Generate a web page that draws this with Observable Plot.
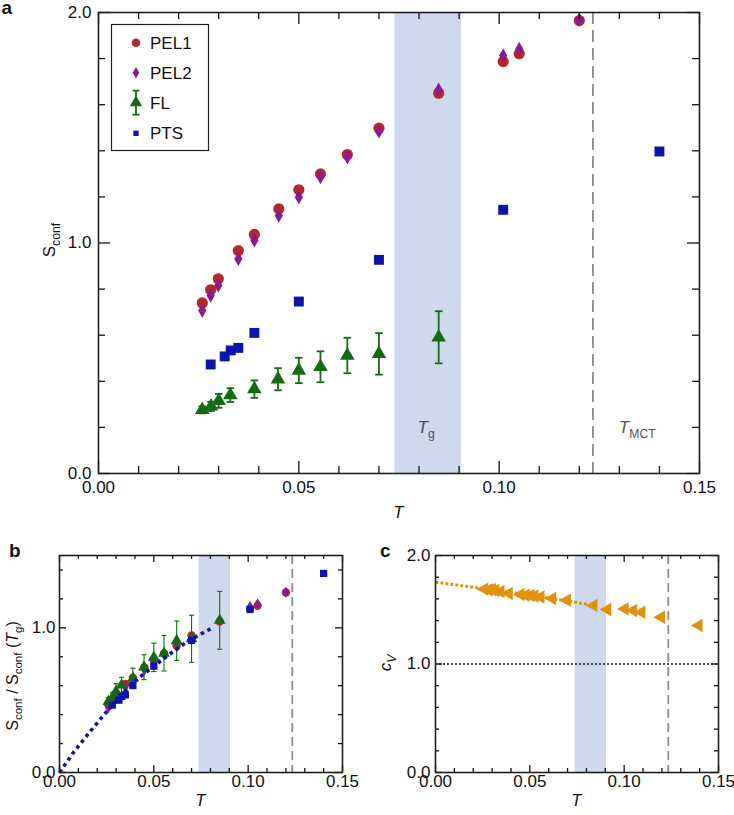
<!DOCTYPE html>
<html><head><meta charset="utf-8">
<script src="https://cdn.jsdelivr.net/npm/d3@7"></script>
<script src="https://cdn.jsdelivr.net/npm/@observablehq/plot@0.6"></script>
<style>
body{margin:0;background:#fff;}
#fig{position:relative;width:734px;height:815px;overflow:hidden;background:#fff;}
</style></head><body><div id="fig"></div>
<script>
// ---------- Panel a data ----------
const pelT  = [0.0259, 0.0280, 0.0299, 0.0349, 0.0389, 0.0450, 0.0500, 0.0554, 0.0621, 0.0700, 0.0849, 0.1010, 0.1050, 0.1200];
const pel1S = [0.740, 0.797, 0.845, 0.967, 1.037, 1.148, 1.231, 1.300, 1.384, 1.498, 1.650, 1.787, 1.821, 1.965];
const pel2S = [0.707, 0.772, 0.816, 0.931, 1.011, 1.119, 1.199, 1.286, 1.372, 1.484, 1.665, 1.813, 1.842, 1.968];
const flT   = [0.0259, 0.0281, 0.0300, 0.0329, 0.0389, 0.0448, 0.0500, 0.0554, 0.0621, 0.0700, 0.0849];
const flS   = [0.276, 0.291, 0.315, 0.340, 0.366, 0.409, 0.447, 0.463, 0.512, 0.519, 0.591];
const flErr = [0.015, 0.020, 0.030, 0.030, 0.038, 0.048, 0.055, 0.067, 0.077, 0.090, 0.113];
const ptsT  = [0.0280, 0.0315, 0.0330, 0.0349, 0.0389, 0.0500, 0.0700, 0.1010, 0.1400];
const ptsS  = [0.473, 0.508, 0.534, 0.545, 0.610, 0.746, 0.927, 1.144, 1.397];
// ---------- Panel b data (normalised) ----------
const bPel1 = [0.468, 0.504, 0.535, 0.612, 0.656, 0.727, 0.779, 0.823, 0.876, 0.948, 1.044, 1.131, 1.153, 1.244];
const bPel2 = [0.447, 0.489, 0.516, 0.589, 0.640, 0.708, 0.759, 0.814, 0.868, 0.939, 1.054, 1.147, 1.166, 1.246];
const bFl   = [0.491, 0.518, 0.561, 0.605, 0.651, 0.728, 0.796, 0.824, 0.911, 0.924, 1.052];
const bFlErr= [0.027, 0.036, 0.053, 0.053, 0.070, 0.086, 0.098, 0.122, 0.136, 0.163, 0.200];
const bPts  = [0.466, 0.500, 0.526, 0.537, 0.601, 0.735, 0.913, 1.127, 1.376];
const fitT  = [0, 0.0075, 0.0154, 0.0243, 0.0393, 0.0500, 0.0570, 0.0685, 0.0810];
const fitV  = [0, 0.140, 0.270, 0.410, 0.625, 0.735, 0.805, 0.912, 1.000];
// ---------- Panel c data ----------
const cvT = [0.0259, 0.0283, 0.0301, 0.0318, 0.0345, 0.0389, 0.0451, 0.0478, 0.0504, 0.0525, 0.0557, 0.0619, 0.0697, 0.0838, 0.0911, 0.1003, 0.1048, 0.1092, 0.1196, 0.1395];
const cvV = [1.690, 1.684, 1.686, 1.677, 1.668, 1.650, 1.640, 1.634, 1.631, 1.626, 1.618, 1.604, 1.588, 1.540, 1.502, 1.508, 1.493, 1.477, 1.431, 1.354];
const cvFitT = [0, 0.0220, 0.0500, 0.0805];
const cvFitV = [1.754, 1.703, 1.634, 1.551];
const cvRef = [1.0];
// ---------- Reference markers ----------
const tgBand = [0.0740, 0.0906];
const tMCT = [0.1234];
// ---------- Axes / ticks ----------
const xDomain = [0, 0.15];
const yDomainA = [0, 2], yDomainB = [0, 1.5], yDomainC = [0, 2];
const xMajor = [0, 0.05, 0.10, 0.15];
const xMinor = [0.01,0.02,0.03,0.04,0.06,0.07,0.08,0.09,0.11,0.12,0.13,0.14];
const yMajorA = [0, 1.0, 2.0];
const yMinorA = [0.2,0.4,0.6,0.8,1.2,1.4,1.6,1.8];
const yMajorB = [0, 1.0];
const yMinorB = [0.2,0.4,0.6,0.8,1.2,1.4];
const yMajorC = [0, 1.0, 2.0];
const yMinorC = [0.2,0.4,0.6,0.8,1.2,1.4,1.6,1.8];
const legendLabels = ["PEL1", "PEL2", "FL", "PTS"];

// ---------- Style ----------
const RED = "#b3272d", PURPLE = "#8a1a8f", GREEN = "#146b14", BLUE = "#0b14ad", ORANGE = "#e0920e";
const BAND = "#cfd9ed", DASH = "#8c8c8c", INK = "#1e1e1e";
const FONT = '"Liberation Sans", Arial, Helvetica, sans-serif';
const FS = 17;

const capSymbol = (hw) => ({draw(ctx){ ctx.moveTo(-hw, 0); ctx.lineTo(hw, 0); }});
const leftTriangle = {draw(ctx, size){
  const y = Math.sqrt(size / (Math.sqrt(3) * 3));
  ctx.moveTo(-2 * y, 0); ctx.lineTo(y, -Math.sqrt(3) * y); ctx.lineTo(y, Math.sqrt(3) * y); ctx.closePath();
}};

// axis labels, frame and inward ticks on all four sides (tick lengths given in pixels, o.pw/o.ph = plot size)
function axes(o) {
  const [y0, y1] = o.yDomain, [x0, x1] = xDomain;
  const ky = (y1 - y0) / o.ph, kx = (x1 - x0) / o.pw;
  const c = {stroke: "#111", strokeWidth: 1.3};
  const xt = (vals, len) => [
    ...vals.map(v => ({x: v, a: y0, b: y0 + len * ky})),
    ...vals.map(v => ({x: v, a: y1, b: y1 - len * ky}))];
  const yt = (vals, len) => [
    ...vals.map(v => ({y: v, a: x0, b: x0 + len * kx})),
    ...vals.map(v => ({y: v, a: x1, b: x1 - len * kx}))];
  return [
    Plot.ruleX(xt(xMinor, o.minor), {...c, x: "x", y1: "a", y2: "b"}),
    Plot.ruleX(xt(xMajor, o.major), {...c, x: "x", y1: "a", y2: "b"}),
    Plot.ruleY(yt(o.yMinor, o.minor), {...c, y: "y", x1: "a", x2: "b"}),
    Plot.ruleY(yt(o.yMajor, o.major), {...c, y: "y", x1: "a", x2: "b"}),
    Plot.axisX(xMajor, {anchor: "bottom", tickSize: 0, tickPadding: o.xPad, tickFormat: d3.format(".2f"), label: null, fill: "#111", fontSize: FS}),
    Plot.axisY(o.yMajor, {anchor: "left", tickSize: 0, tickPadding: o.yPad, tickFormat: d3.format(".1f"), label: null, fill: "#111", fontSize: FS}),
    Plot.frame({stroke: INK, strokeWidth: 1.6})
  ];
}

function rich(svg, {x, y, rotate = 0, anchor = "middle", size = FS, fill = "#111", weight = "normal"}, segs) {
  const t = d3.select(svg).append("text")
    .attr("transform", `translate(${x},${y}) rotate(${rotate})`)
    .attr("text-anchor", anchor).attr("font-size", size).attr("fill", fill)
    .attr("font-family", FONT).attr("font-weight", weight);
  let sub = false;
  for (const [s, st = ""] of segs) {
    const ts = t.append("tspan").text(s);
    if (st.includes("i")) ts.attr("font-style", "italic");
    if (st.includes("s")) { ts.attr("font-size", size * 0.72); if (!sub) { ts.attr("dy", size * 0.28); sub = true; } }
    else if (sub) { ts.attr("dy", -size * 0.28); sub = false; }
  }
  return t;
}

const fig = document.getElementById("fig");
function place(node, left, top) { node.style.position = "absolute"; node.style.left = left + "px"; node.style.top = top + "px"; fig.appendChild(node); }
const style = {fontFamily: FONT, fontSize: FS + "px", color: INK, background: "transparent", overflow: "visible"};

// ---------- Panel a ----------
const pel1 = pelT.map((T, i) => ({T, S: pel1S[i]}));
const pel2 = pelT.map((T, i) => ({T, S: pel2S[i]}));
const fl = flT.map((T, i) => ({T, S: flS[i], lo: flS[i] - flErr[i], hi: flS[i] + flErr[i]}));
const pts = ptsT.map((T, i) => ({T, S: ptsS[i]}));

const plotA = Plot.plot({
  width: 734, height: 525, marginLeft: 98, marginRight: 35, marginTop: 12, marginBottom: 52,
  x: {domain: xDomain}, y: {domain: yDomainA}, style,
  marks: [
    Plot.rect([tgBand], {x1: d => d[0], x2: d => d[1], fill: BAND}),
    Plot.ruleX(tMCT, {stroke: DASH, strokeWidth: 1.8, strokeDasharray: "12,6"}),
    Plot.dot(pel1, {x: "T", y: "S", symbol: "circle", r: 5.6, fill: RED, stroke: "none"}),
    Plot.dot(pel2, {x: "T", y: "S", symbol: "diamond", r: 4.3, fill: PURPLE, stroke: "none"}),
    Plot.ruleX(fl, {x: "T", y1: "lo", y2: "hi", stroke: GREEN, strokeWidth: 1.8}),
    Plot.dot(fl, {x: "T", y: "hi", symbol: capSymbol(3.8), stroke: GREEN, strokeWidth: 1.8, fill: "none"}),
    Plot.dot(fl, {x: "T", y: "lo", symbol: capSymbol(3.8), stroke: GREEN, strokeWidth: 1.8, fill: "none"}),
    Plot.dot(fl, {x: "T", y: "S", symbol: "triangle", r: 5.4, fill: GREEN, stroke: "none"}),
    Plot.dot(pts, {x: "T", y: "S", symbol: "square", r: 5.6, fill: BLUE, stroke: "none"}),
    ...axes({pw: 601, ph: 461, major: 12, minor: 7, yDomain: yDomainA, yMajor: yMajorA, yMinor: yMinorA, xPad: 7, yPad: 7})
  ]
});
place(plotA, 0, 0);
{
  const sx = plotA.scale("x"), sy = plotA.scale("y");
  rich(plotA, {x: sx.apply(0.0819), y: sy.apply(0.172), fill: "#3d4a66"}, [["T", "i"], ["g", "s"]]);
  rich(plotA, {x: sx.apply(0.1346), y: sy.apply(0.172), fill: "#555"}, [["T", "i"], ["MCT", "s"]]);
  rich(plotA, {x: 398.5, y: 518}, [["T", "i"]]);
  rich(plotA, {x: 55, y: 240, rotate: -90}, [["S"], ["conf", "s"]]);
  rich(plotA, {x: 1.5, y: 14, anchor: "start", size: 19, weight: "bold"}, [["a"]]);
  // legend
  const g = d3.select(plotA).append("g");
  g.append("rect").attr("x", 111.5).attr("y", 24.5).attr("width", 97).attr("height", 126)
    .attr("fill", "white").attr("stroke", INK).attr("stroke-width", 1.2);
  const ys = [42.7, 72.7, 102.7, 133.3];
  const syms = [
    {s: d3.symbolCircle, r: 4.3, c: RED},
    {s: d3.symbolDiamond, r: 3.5, c: PURPLE},
    {s: d3.symbolTriangle, r: 4.6, c: GREEN},
    {s: d3.symbolSquare, r: 3.0, c: BLUE}
  ];
  legendLabels.forEach((lab, i) => {
    const y = ys[i];
    if (lab === "FL") {
      g.append("path").attr("d", `M136,${y - 12}V${y + 12}M132.5,${y - 12}H139.5M132.5,${y + 12}H139.5`)
        .attr("stroke", GREEN).attr("stroke-width", 1.8).attr("fill", "none");
    }
    g.append("path").attr("d", d3.symbol(syms[i].s, Math.PI * syms[i].r * syms[i].r)())
      .attr("transform", `translate(136,${y})`).attr("fill", syms[i].c);
    g.append("text").attr("x", 150).attr("y", y + 6).attr("font-size", FS)
      .attr("text-anchor", "start").attr("font-family", FONT).attr("fill", "#111").text(lab);
  });
}

// ---------- Panel b ----------
const bp1 = pelT.map((T, i) => ({T, V: bPel1[i]}));
const bp2 = pelT.map((T, i) => ({T, V: bPel2[i]}));
const bfl = flT.map((T, i) => ({T, V: bFl[i], lo: bFl[i] - bFlErr[i], hi: bFl[i] + bFlErr[i]}));
const bpt = ptsT.map((T, i) => ({T, V: bPts[i]}));
const bfit = fitT.map((T, i) => ({T, V: fitV[i]}));

const plotB = Plot.plot({
  width: 367, height: 285, marginLeft: 59, marginRight: 25, marginTop: 25, marginBottom: 43,
  x: {domain: xDomain}, y: {domain: yDomainB}, style,
  marks: [
    Plot.rect([tgBand], {x1: d => d[0], x2: d => d[1], fill: BAND}),
    Plot.ruleX(tMCT, {stroke: DASH, strokeWidth: 1.8, strokeDasharray: "9,5"}),
    Plot.dot(bp1, {x: "T", y: "V", symbol: "circle", r: 4.2, fill: RED, stroke: "none"}),
    Plot.dot(bp2, {x: "T", y: "V", symbol: "diamond", r: 3.4, fill: PURPLE, stroke: "none"}),
    Plot.ruleX(bfl, {x: "T", y1: "lo", y2: "hi", stroke: GREEN, strokeWidth: 1.1}),
    Plot.dot(bfl, {x: "T", y: "hi", symbol: capSymbol(2.6), stroke: GREEN, strokeWidth: 1.1, fill: "none"}),
    Plot.dot(bfl, {x: "T", y: "lo", symbol: capSymbol(2.6), stroke: GREEN, strokeWidth: 1.1, fill: "none"}),
    Plot.dot(bfl, {x: "T", y: "V", symbol: "triangle", r: 4.4, fill: GREEN, stroke: "none"}),
    Plot.line(bfit, {x: "T", y: "V", stroke: BLUE, strokeWidth: 3.6, strokeDasharray: "3.6,3.8", strokeLinecap: "butt"}),
    Plot.dot(bpt, {x: "T", y: "V", symbol: "square", r: 4.1, fill: BLUE, stroke: "none"}),
    ...axes({pw: 283, ph: 217, major: 7, minor: 4, yDomain: yDomainB, yMajor: yMajorB, yMinor: yMinorB, xPad: 2, yPad: 4})
  ]
});
place(plotB, 0, 530);
rich(plotB, {x: 200.5, y: 276}, [["T", "i"]]);
rich(plotB, {x: 18, y: 146, rotate: -90, size: 16}, [["S"], ["conf", "s"], [" / S"], ["conf", "s"], [" ("], ["T", "i"], ["g", "s"], [")"]]);
rich(plotB, {x: 9, y: 27, anchor: "start", size: 19, weight: "bold"}, [["b"]]);

// ---------- Panel c ----------
const cv = cvT.map((T, i) => ({T, V: cvV[i]}));
const cvFit = cvFitT.map((T, i) => ({T, V: cvFitV[i]}));

const plotC = Plot.plot({
  width: 367, height: 285, marginLeft: 68, marginRight: 16, marginTop: 25, marginBottom: 43,
  x: {domain: xDomain}, y: {domain: yDomainC}, style,
  marks: [
    Plot.rect([tgBand], {x1: d => d[0], x2: d => d[1], fill: BAND}),
    Plot.ruleX(tMCT, {stroke: DASH, strokeWidth: 1.8, strokeDasharray: "9,5"}),
    Plot.ruleY(cvRef, {stroke: "#111", strokeWidth: 1.6, strokeDasharray: "2,2"}),
    Plot.line(cvFit, {x: "T", y: "V", stroke: ORANGE, strokeWidth: 3, strokeDasharray: "3,2", strokeLinecap: "butt"}),
    Plot.dot(cv, {x: "T", y: "V", symbol: leftTriangle, r: 5, fill: ORANGE, stroke: "none"}),
    ...axes({pw: 283, ph: 217, major: 7, minor: 4, yDomain: yDomainC, yMajor: yMajorC, yMinor: yMinorC, xPad: 2, yPad: 5})
  ]
});
place(plotC, 367, 530);
rich(plotC, {x: 209.5, y: 276}, [["T", "i"]]);
rich(plotC, {x: 24, y: 133, rotate: -90}, [["c", "i"], ["V", "is"]]);
rich(plotC, {x: 13, y: 27, anchor: "start", size: 19, weight: "bold"}, [["c"]]);
</script></body></html>
